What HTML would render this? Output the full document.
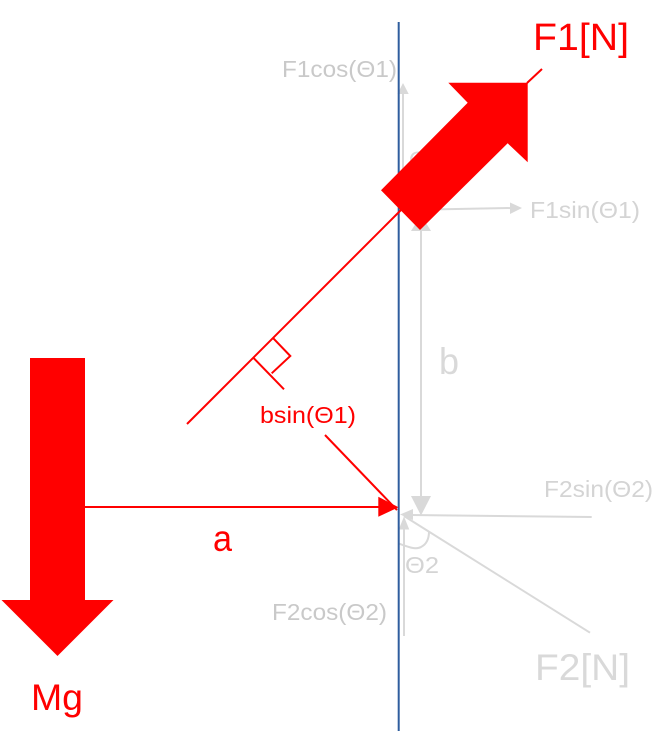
<!DOCTYPE html>
<html>
<head>
<meta charset="utf-8">
<style>
html,body{margin:0;padding:0;background:#fff;}
svg{display:block;}
text{font-family:"Liberation Sans",sans-serif;}
</style>
</head>
<body>
<svg width="669" height="741" viewBox="0 0 669 741" xmlns="http://www.w3.org/2000/svg">
<rect width="669" height="741" fill="#fff"/>
<!-- gray top -->
<g stroke="#d9d9d9" stroke-width="2" fill="none">
<line x1="403" y1="92" x2="403" y2="212"/>
<line x1="430" y1="209.5" x2="512" y2="208"/>
<line x1="421" y1="225" x2="421" y2="498"/>
<line x1="591.7" y1="517" x2="410" y2="515"/>
<line x1="590" y1="632.7" x2="404" y2="516"/>
<line x1="404" y1="636" x2="404" y2="527"/>
<path d="M398.5 543.5 C408 547 416 550 421 547 C427 544 429 538 429 531.5"/>
</g>
<g fill="#d9d9d9">
<polygon points="403,83 397.5,94 408.7,94"/>
<polygon points="522,208 510,202.5 510,214"/>
<polygon points="421,215 411,231 431,231"/>
<polygon points="411,496 431,496 421,515.5"/>
<polygon points="400,514.5 413,509 413,520"/>
<polygon points="404,516.5 398.7,529.5 409.3,529.5"/>
</g>
<g fill="#d9d9d9">
<text x="409" y="167" font-size="22" textLength="32" lengthAdjust="spacingAndGlyphs">Θ1</text>
<text x="535" y="680" font-size="37" textLength="95" lengthAdjust="spacingAndGlyphs">F2[N]</text>
<text x="439" y="374" font-size="37" textLength="20" lengthAdjust="spacingAndGlyphs">b</text>
</g>
<g fill="#c9c9c9" font-size="23">
<text x="282" y="77" textLength="115" lengthAdjust="spacingAndGlyphs">F1cos(Θ1)</text>
<text x="272" y="620" textLength="115" lengthAdjust="spacingAndGlyphs">F2cos(Θ2)</text>
</g>
<g fill="#d4d4d4" font-size="23">
<text x="530" y="218" textLength="110" lengthAdjust="spacingAndGlyphs">F1sin(Θ1)</text>
<text x="544" y="497" textLength="109" lengthAdjust="spacingAndGlyphs">F2sin(Θ2)</text>
<text x="405" y="573" textLength="34" lengthAdjust="spacingAndGlyphs">Θ2</text>
</g>
<!-- blue axis -->
<line x1="398.7" y1="22" x2="398.7" y2="731" stroke="#2f5d9e" stroke-width="2"/>
<!-- red -->
<g stroke="#ff0000" stroke-width="2" fill="none">
<line x1="187" y1="424" x2="405" y2="206"/>
<line x1="527" y1="83" x2="542" y2="69"/>
<line x1="253.3" y1="357.7" x2="284" y2="389.3"/>
<polyline points="273.3,338.3 290.3,356 271.7,373.3"/>
<line x1="325" y1="435" x2="397" y2="510"/>
<line x1="85" y1="507" x2="382" y2="507"/>
</g>
<g fill="#ff0000">
<polygon points="378.3,496.7 398.5,507.3 378.3,516.7"/>
<polygon points="527.7,82.7 448.3,82.7 467.7,102.7 381,190.3 420,230 507.7,143.3 527.7,162.3"/>
<polygon points="30,358 85,358 85,600 113.5,600 57.5,656 1.5,600 30,600"/>
<text x="533" y="50" font-size="38" textLength="96" lengthAdjust="spacingAndGlyphs">F1[N]</text>
<text x="31" y="710" font-size="37" textLength="52" lengthAdjust="spacingAndGlyphs">Mg</text>
<text x="213" y="551" font-size="37" textLength="19" lengthAdjust="spacingAndGlyphs">a</text>
<text x="260" y="423" font-size="23" textLength="96" lengthAdjust="spacingAndGlyphs">bsin(Θ1)</text>
</g>
</svg>
</body>
</html>
